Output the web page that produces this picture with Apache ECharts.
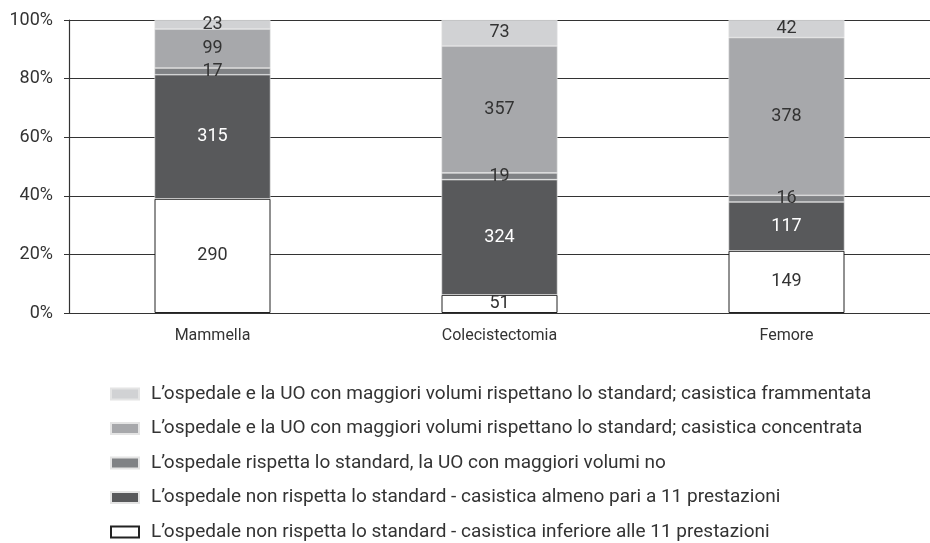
<!DOCTYPE html>
<html>
<head>
<meta charset="utf-8">
<script src="https://cdn.jsdelivr.net/npm/echarts@6/dist/echarts.min.js"></script>
<style>
  html, body { margin: 0; padding: 0; background: #fff; }
  #chart { width: 930px; height: 543px; }
</style>
</head>
<body>
<div id="chart"></div>
<script>
  // categorie e casistica (valori assoluti, dal basso verso l'alto)
  var categories = ['Mammella', 'Colecistectomia', 'Femore'];
  var inferiore = [290, 51, 149];
  var almenoPari = [315, 324, 117];
  var uoNo = [17, 19, 16];
  var concentrata = [99, 357, 378];
  var frammentata = [23, 73, 42];
  var yTicks = [0, 20, 40, 60, 80, 100];

  var names = [
    'L\u2019ospedale non rispetta lo standard - casistica inferiore alle 11 prestazioni',
    'L\u2019ospedale non rispetta lo standard - casistica almeno pari a 11 prestazioni',
    'L\u2019ospedale rispetta lo standard, la UO con maggiori volumi no',
    'L\u2019ospedale e la UO con maggiori volumi rispettano lo standard; casistica concentrata',
    'L\u2019ospedale e la UO con maggiori volumi rispettano lo standard; casistica frammentata'
  ];
  var raw = [inferiore, almenoPari, uoNo, concentrata, frammentata];
  var colors = ['#ffffff', '#58595b', '#808285', '#a7a8ab', '#d1d2d4'];
  var font = 'Roboto, "Liberation Sans", sans-serif';

  var totals = categories.map(function (c, i) {
    var s = 0;
    raw.forEach(function (arr) { s += arr[i]; });
    return s;
  });

  var series = raw.map(function (arr, k) {
    return {
      name: names[k],
      type: 'bar',
      stack: 'tot',
      barWidth: 116,
      data: arr.map(function (v, i) { return v / totals[i] * 100; }),
      itemStyle: {
        color: colors[k],
        borderColor: k === 0 ? '#222' : '#e4e4e4',
        borderWidth: k === 0 ? 1 : 0.6
      },
      label: {
        show: true,
        position: 'inside',
        fontFamily: font,
        fontSize: 18,
        color: k === 1 ? '#fff' : '#333',
        formatter: function (p) { return arr[p.dataIndex]; }
      }
    };
  });

  var chart = echarts.init(document.getElementById('chart'));
  chart.setOption({
    animation: false,
    grid: { left: 69, top: 20, width: 873, height: 293 },
    xAxis: {
      type: 'category',
      data: categories,
      axisLine: { lineStyle: { color: '#333', width: 1.2 } },
      axisTick: { length: 5, lineStyle: { color: '#333' } },
      axisLabel: { fontFamily: font, fontSize: 16, color: '#333', margin: 15 }
    },
    yAxis: {
      type: 'value',
      min: yTicks[0],
      max: yTicks[yTicks.length - 1],
      interval: 20,
      axisLine: { show: true, lineStyle: { color: '#333', width: 1.2 } },
      axisTick: { show: true, length: 5, lineStyle: { color: '#333' } },
      axisLabel: { fontFamily: font, fontSize: 18, color: '#333', margin: 16, formatter: '{value}%' },
      splitLine: { lineStyle: { color: '#333', width: 1.2 } }
    },
    legend: {
      orient: 'vertical',
      left: 110,
      top: 384,
      padding: 0,
      icon: 'rect',
      itemWidth: 28,
      itemHeight: 11,
      itemGap: 14.5,
      data: names.slice().reverse(),
      textStyle: { fontFamily: font, fontSize: 19, color: '#333', padding: [0, 0, 0, 7], lineHeight: 20 }
    },
    series: series
  });
</script>
</body>
</html>
